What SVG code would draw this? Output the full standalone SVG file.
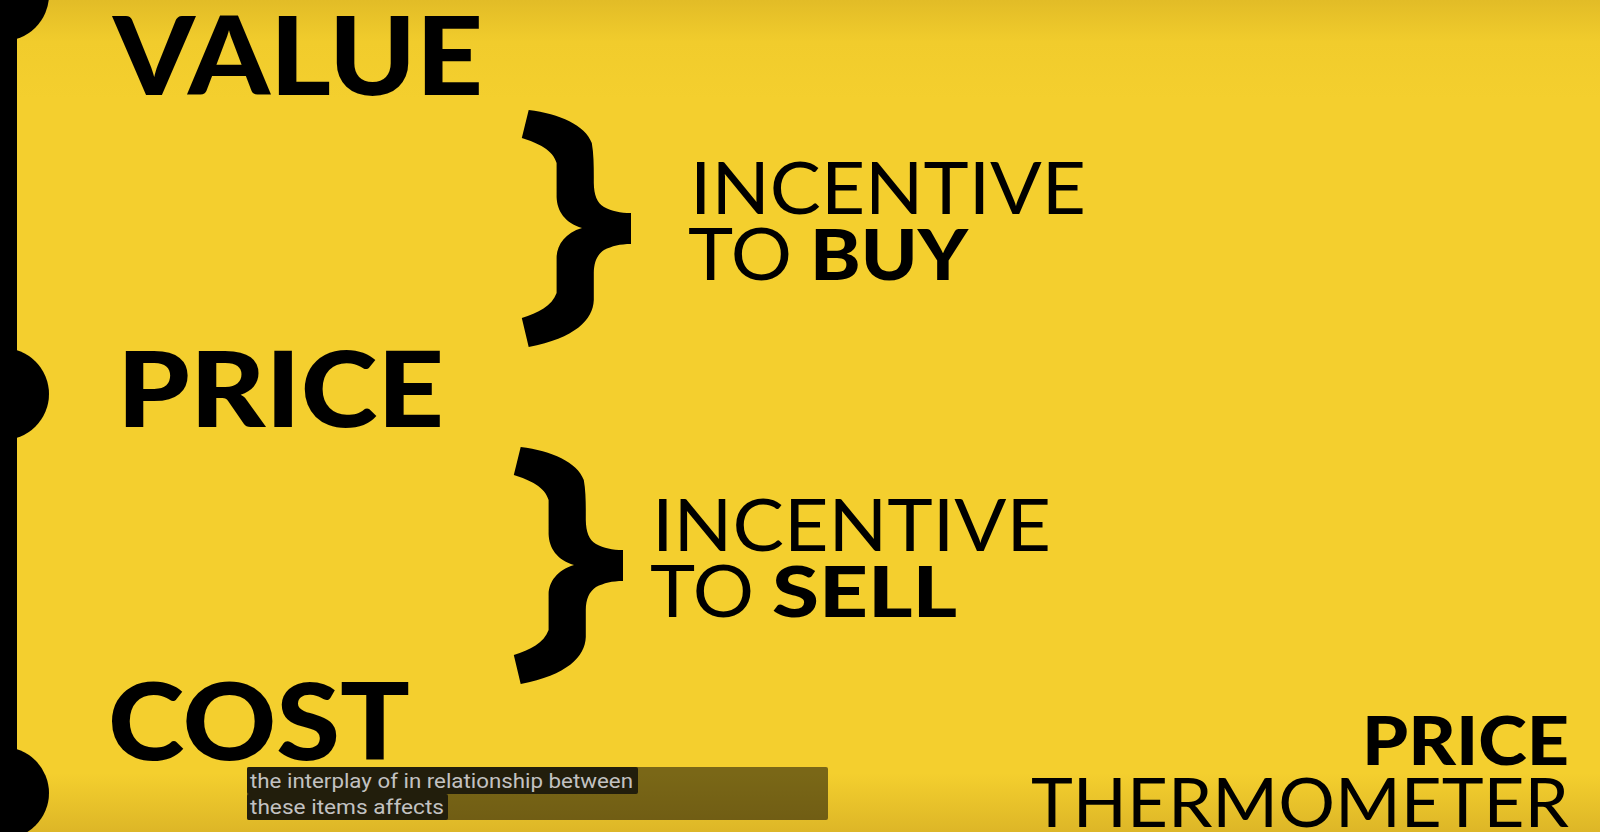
<svg xmlns="http://www.w3.org/2000/svg" width="1600" height="832" viewBox="0 0 1600 832">
  <defs>
    <linearGradient id="bg" x1="0" y1="0" x2="0" y2="1">
      <stop offset="0" stop-color="#E2BC27"/>
      <stop offset="0.05" stop-color="#F1CC2C"/>
      <stop offset="0.12" stop-color="#F4CF2E"/>
      <stop offset="0.93" stop-color="#F4CF2E"/>
      <stop offset="1" stop-color="#DDB627"/>
    </linearGradient>
    <path id="brace" d="M528.7,110 C560,114 585,125 591.8,143 C594,155 593.8,170 593.8,183 C594,195 597,203 604,207 C612,211 620,213 631,213 L631,244 C620,244 612,246 604,250 C597,255 594,262 593.8,273 L593.8,300 C593,320 575,338 528.7,347 L521.8,318 C538,313 552,306 556.6,293 L556.6,257 C557,245 565,233 582,228 C565,223 557,211 556.6,197 L556.6,163 C553,150 538,143 521.8,138 Z"/>
  </defs>
  <style>
    .heavy { font-family: Lato, "Liberation Sans", sans-serif; font-weight: 900; fill: #000; }
    .reg { font-family: Lato, "Liberation Sans", sans-serif; font-weight: 400; fill: #000; }
    .cap { font-family: Roboto, "Liberation Sans", sans-serif; font-size: 20px; fill: #C2C2C2; }
    .mark { fill: #000; }
  </style>
  <rect x="0" y="0" width="1600" height="832" fill="url(#bg)"/>

  <g id="thermometer">
    <rect class="mark" x="0" y="0" width="17" height="832"/>
    <circle class="mark" cx="3" cy="-5" r="46"/>
    <circle class="mark" cx="3" cy="394" r="46"/>
    <circle class="mark" cx="3" cy="793" r="46"/>
  </g>

  <g id="value">
    <text class="heavy" x="113" y="95" font-size="108" textLength="370" lengthAdjust="spacingAndGlyphs">VALUE</text>
  </g>
  <g id="price">
    <text class="heavy" x="117" y="427" font-size="105" textLength="327" lengthAdjust="spacingAndGlyphs">PRICE</text>
  </g>
  <g id="cost">
    <text class="heavy" x="108" y="760" font-size="106" textLength="302" lengthAdjust="spacingAndGlyphs">COST</text>
  </g>

  <g id="connectors">
    <use href="#brace"/>
    <use href="#brace" transform="translate(-8,337)"/>
  </g>

  <g id="incentive-buy">
    <text class="reg" x="690" y="214" font-size="71" textLength="396" lengthAdjust="spacingAndGlyphs">INCENTIVE</text>
    <text class="reg" x="688" y="280" font-size="71" textLength="104" lengthAdjust="spacingAndGlyphs">TO</text>
    <text class="heavy" x="810" y="280" font-size="71" textLength="158" lengthAdjust="spacingAndGlyphs">BUY</text>
  </g>
  <g id="incentive-sell">
    <text class="reg" x="652" y="551" font-size="71" textLength="399" lengthAdjust="spacingAndGlyphs">INCENTIVE</text>
    <text class="reg" x="650" y="617" font-size="71" textLength="104" lengthAdjust="spacingAndGlyphs">TO</text>
    <text class="heavy" x="772" y="617" font-size="71" textLength="185" lengthAdjust="spacingAndGlyphs">SELL</text>
  </g>

  <g id="title">
    <text class="heavy" x="1362" y="765" font-size="67" textLength="207" lengthAdjust="spacingAndGlyphs">PRICE</text>
    <text class="reg" x="1031" y="827" font-size="67" textLength="538" lengthAdjust="spacingAndGlyphs">THERMOMETER</text>
  </g>

  <g id="caption">
    <rect x="247" y="767" width="581" height="53" rx="2" fill="#000" fill-opacity="0.5"/>
    <rect x="247" y="767" width="391" height="27" rx="2" fill="#221E0C"/>
    <rect x="247" y="794" width="201" height="26" rx="2" fill="#221E0C"/>
    <text class="cap" x="250" y="788" textLength="383" lengthAdjust="spacingAndGlyphs">the interplay of in relationship between</text>
    <text class="cap" x="250" y="814" textLength="194" lengthAdjust="spacingAndGlyphs">these items affects</text>
  </g>
</svg>
